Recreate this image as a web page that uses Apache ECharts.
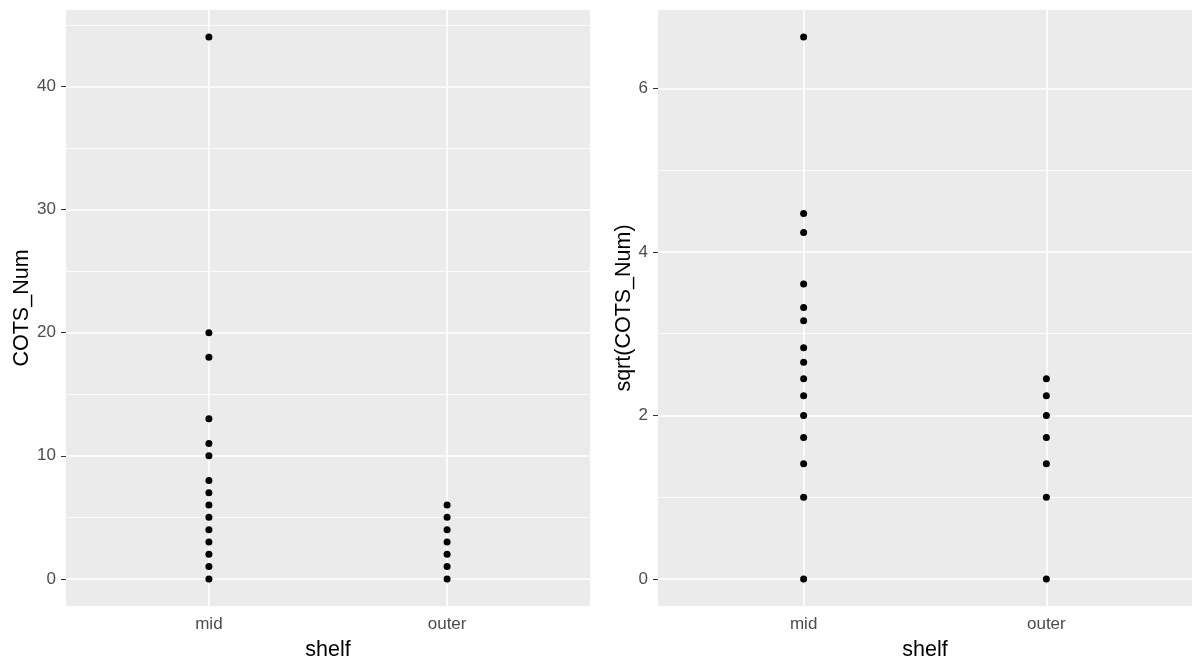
<!DOCTYPE html>
<html><head><meta charset="utf-8">
<script src="https://cdn.jsdelivr.net/npm/echarts@6/dist/echarts.min.js"></script>
<style>html,body{margin:0;padding:0;background:#fff}#c{width:1192px;height:666px}</style>
</head><body><div id="c"></div>
<script>
const categories = ['mid', 'outer'];
const midCounts = [0, 1, 2, 3, 4, 5, 6, 7, 8, 10, 11, 13, 18, 20, 44];
const outerCounts = [0, 1, 2, 3, 4, 5, 6];
const midSqrt = [0, 1, 1.41, 1.73, 2, 2.24, 2.45, 2.65, 2.83, 3.16, 3.32, 3.61, 4.24, 4.47, 6.63];
const outerSqrt = [0, 1, 1.41, 1.73, 2, 2.24, 2.45];
const leftTicks = [0, 10, 20, 30, 40];
const leftMinor = [5, 15, 25, 35, 45];
const rightTicks = [0, 2, 4, 6];
const rightMinor = [1, 3, 5];
const leftRange = [-2.2, 46.2];
const rightRange = [-0.3315, 6.9615];

const chart = echarts.init(document.getElementById('c'));
const FONT = 'Liberation Sans, Arial, sans-serif';
const catPos = categories.map((c, i) => i + 1);

function xAxis(gi) {
  return {
    type: 'value', gridIndex: gi, min: 0.4, max: 2.6,
    name: 'shelf', nameLocation: 'middle', nameGap: 33,
    nameTextStyle: {color: '#000', fontSize: 21.5, fontFamily: FONT},
    axisLine: {show: false},
    axisTick: {show: true, customValues: catPos, length: 5, lineStyle: {color: '#333', width: 1}},
    axisLabel: {show: true, customValues: catPos, margin: 10, color: '#4D4D4D', fontSize: 17, fontFamily: FONT,
      formatter: v => categories[Math.round(v) - 1] || ''},
    splitLine: {show: false}
  };
}
function yAxis(gi, name, range, ticks, gap) {
  return {
    type: 'value', gridIndex: gi, min: range[0], max: range[1],
    name: name, nameLocation: 'middle', nameGap: gap,
    nameTextStyle: {color: '#000', fontSize: 21.5, fontFamily: FONT},
    axisLine: {show: false},
    axisTick: {show: true, customValues: ticks, length: 5, lineStyle: {color: '#333', width: 1}},
    axisLabel: {show: true, customValues: ticks, margin: 10, color: '#4D4D4D', fontSize: 17, fontFamily: FONT},
    splitLine: {show: false}
  };
}
function gridLines(gi, major, minor) {
  const data = [];
  minor.forEach(v => data.push({yAxis: v, lineStyle: {width: 0.8}}));
  major.forEach(v => data.push({yAxis: v, lineStyle: {width: 1.6}}));
  catPos.forEach(v => data.push({xAxis: v, lineStyle: {width: 1.6}}));
  return {
    type: 'line', xAxisIndex: gi, yAxisIndex: gi, data: [], z: 1, silent: true,
    markLine: {silent: true, symbol: 'none', label: {show: false}, animation: false,
      lineStyle: {color: '#FFFFFF', type: 'solid'}, emphasis: {disabled: true}, data: data}
  };
}
function pts(gi, xi, vals) {
  return {
    type: 'scatter', xAxisIndex: gi, yAxisIndex: gi, z: 5, symbolSize: 7,
    itemStyle: {color: '#000', opacity: 1}, data: vals.map(v => [catPos[xi], v]), silent: true
  };
}

chart.setOption({
  animation: false,
  grid: [
    {left: 66, top: 10, width: 524, height: 596, show: true, backgroundColor: '#EBEBEB', borderWidth: 0},
    {left: 658, top: 10, width: 534, height: 596, show: true, backgroundColor: '#EBEBEB', borderWidth: 0}
  ],
  xAxis: [xAxis(0), xAxis(1)],
  yAxis: [yAxis(0, 'COTS_Num', leftRange, leftTicks, 33), yAxis(1, 'sqrt(COTS_Num)', rightRange, rightTicks, 22)],
  series: [
    gridLines(0, leftTicks, leftMinor),
    gridLines(1, rightTicks, rightMinor),
    pts(0, 0, midCounts), pts(0, 1, outerCounts),
    pts(1, 0, midSqrt), pts(1, 1, outerSqrt)
  ]
});
</script></body></html>
